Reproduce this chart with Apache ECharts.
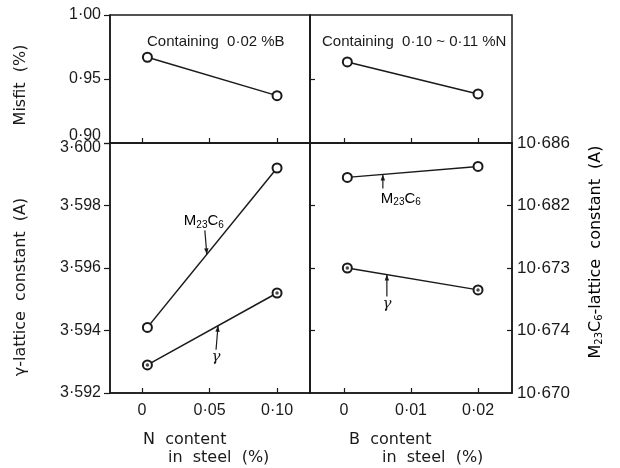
<!DOCTYPE html>
<html><head><meta charset="utf-8">
<script src="https://cdn.jsdelivr.net/npm/echarts@6/dist/echarts.min.js"></script>
<style>html,body{margin:0;padding:0;background:#fff}#c{width:620px;height:468px}</style>
</head><body><div id="c"></div><script>
// ---- data ----
const nTicks = [0, 0.05, 0.10];
const nTickLabels = ['0', '0·05', '0·10'];
const bTicks = [0, 0.01, 0.02];
const bTickLabels = ['0', '0·01', '0·02'];
const misfitTicks = [0.90, 0.95, 1.00];
const misfitLabels = ['0·90', '0·95', '1·00'];
const gammaTicks = [3.592, 3.594, 3.596, 3.598, 3.600];
const gammaLabels = ['3·592', '3·594', '3·596', '3·598', '3·600'];
const m23Ticks = [10.670, 10.674, 10.678, 10.682, 10.686];
const m23Labels = ['10·670', '10·674', '10·673', '10·682', '10·686'];

const nContent = [0.004, 0.10];
const bContent = [0.0005, 0.02];
const misfitN = [0.967, 0.937];
const misfitB = [0.9633, 0.9383];
const m23N = [3.5941, 3.5992];
const gammaN = [3.5929, 3.5952];
const gammaB = [3.5960, 3.5953];
const m23B = [10.6838, 10.6845];

// ---- helpers ----
const FONT = "'Liberation Sans', Arial, sans-serif";
const WFONT = "'DejaVu Sans', sans-serif";
const INK = '#1a1a1a';
const zip = (xs, ys) => xs.map((x, i) => [x, ys[i]]);
function lab(v, ticks, labels) {
  for (let i = 0; i < ticks.length; i++) if (Math.abs(v - ticks[i]) < 1e-7) return labels[i];
  return '';
}
function xAx(grid, min, max, ticks, labels, showLabel) {
  return {
    type: 'value', gridIndex: grid, min: min, max: max, position: 'bottom',
    axisLine: { show: true, onZero: false, lineStyle: { color: INK, width: 1.5 } },
    axisTick: { show: true, inside: true, length: 5, customValues: ticks, lineStyle: { color: INK, width: 1.2 } },
    axisLabel: { show: showLabel, customValues: ticks, formatter: v => lab(v, ticks, labels),
      color: INK, fontSize: 16, margin: 10, fontFamily: FONT },
    splitLine: { show: false }
  };
}
function yAx(grid, min, max, ticks, labels, opts) {
  return Object.assign({
    type: 'value', gridIndex: grid, min: min, max: max, position: 'left',
    axisLine: { show: true, onZero: false, lineStyle: { color: INK, width: 1.5 } },
    axisTick: { show: true, inside: false, length: 6, customValues: ticks, lineStyle: { color: INK, width: 1.2 } },
    axisLabel: { show: true, customValues: ticks, color: INK, fontSize: 16, margin: 9, fontFamily: FONT,
      formatter: v => lab(v, ticks, labels) },
    splitLine: { show: false }
  }, opts || {});
}
const lineStyle = { color: INK, width: 1.5 };
function lineSeries(xi, yi, data) {
  return { type: 'line', xAxisIndex: xi, yAxisIndex: yi, data: data, symbol: 'emptyCircle', symbolSize: 9,
    showSymbol: true, lineStyle: lineStyle, itemStyle: { color: INK, borderColor: INK, borderWidth: 1 },
    z: 3, silent: true, animation: false };
}
function dotSeries(xi, yi, data) {
  return { type: 'scatter', xAxisIndex: xi, yAxisIndex: yi, data: data, symbol: 'circle', symbolSize: 3.5,
    itemStyle: { color: INK }, z: 5, silent: true, animation: false };
}

const grids = [
  { left: 110, top: 15, width: 200, height: 128 },
  { left: 310, top: 15, width: 202, height: 128 },
  { left: 110, top: 143, width: 200, height: 250 },
  { left: 310, top: 143, width: 202, height: 250 }
].map(g => Object.assign(g, { show: true, borderColor: INK, borderWidth: 1.5, backgroundColor: 'transparent' }));

const nMin = -0.0237, nMax = 0.1244, bMin = -0.00507, bMax = 0.02507;

const yTL = yAx(0, 0.90, 1.00, misfitTicks, misfitLabels);
yTL.axisLabel.formatter = v => {
  const s = lab(v, misfitTicks, misfitLabels);
  return Math.abs(v - 0.90) < 1e-7 ? '{up|' + s + '}' : s;
};
yTL.axisLabel.rich = { up: { fontSize: 16, color: INK, fontFamily: FONT, padding: [0, 0, 14, 0] } };

const yBL = yAx(2, 3.592, 3.600, gammaTicks, gammaLabels);
yBL.axisLabel.formatter = v => {
  const s = lab(v, gammaTicks, gammaLabels);
  return Math.abs(v - 3.600) < 1e-7 ? '{dn|' + s + '}' : s;
};
yBL.axisLabel.rich = { dn: { fontSize: 16, color: INK, fontFamily: FONT, padding: [10, 0, 0, 0] } };

const yTR = yAx(1, 0.90, 1.00, [0.95], misfitLabels);
yTR.axisTick.inside = true; yTR.axisTick.length = 5; yTR.axisLabel.show = false;
const yBR = yAx(3, 3.592, 3.600, [3.594, 3.596, 3.598], gammaLabels);
yBR.axisTick.inside = true; yBR.axisTick.length = 5; yBR.axisLabel.show = false;
const yBRr = yAx(3, 10.670, 10.686, m23Ticks, m23Labels, { position: 'right' });
yBRr.axisTick.inside = true; yBRr.axisTick.length = 5; yBRr.axisTick.customValues = [10.674, 10.678, 10.682];
yBRr.axisLabel.margin = 5; yBRr.axisLabel.align = 'left'; yBRr.axisLabel.fontSize = 17;

const chart = echarts.init(document.getElementById('c'), null, { renderer: 'canvas' });
const titleStyle = { fontSize: 15, fontWeight: 'normal', color: INK, fontFamily: FONT };
const option = {
  animation: false,
  backgroundColor: '#fff',
  title: [
    { text: 'Containing  0·02 %B', left: 147, top: 34, textStyle: titleStyle, padding: 0 },
    { text: 'Containing  0·10 ~ 0·11 %N', left: 322, top: 34, textStyle: titleStyle, padding: 0 }
  ],
  grid: grids,
  xAxis: [
    xAx(0, nMin, nMax, nTicks, nTickLabels, false),
    xAx(1, bMin, bMax, bTicks, bTickLabels, false),
    xAx(2, nMin, nMax, nTicks, nTickLabels, true),
    xAx(3, bMin, bMax, bTicks, bTickLabels, true)
  ],
  yAxis: [yTL, yTR, yBL, yBR, yBRr],
  series: [
    lineSeries(0, 0, zip(nContent, misfitN)),
    lineSeries(1, 1, zip(bContent, misfitB)),
    lineSeries(2, 2, zip(nContent, m23N)),
    lineSeries(2, 2, zip(nContent, gammaN)),
    dotSeries(2, 2, zip(nContent, gammaN)),
    lineSeries(3, 3, zip(bContent, gammaB)),
    dotSeries(3, 3, zip(bContent, gammaB)),
    lineSeries(3, 4, zip(bContent, m23B))
  ]
};
chart.setOption(option);

// ---- annotations (arrows + labels), positioned from data ----
function onLine(xs, ys, x) { const t = (x - xs[0]) / (xs[1] - xs[0]); return ys[0] + t * (ys[1] - ys[0]); }
function px(xi, yi, pt) { return chart.convertToPixel({ xAxisIndex: xi, yAxisIndex: yi }, pt); }
const g = [];
function arrow(tip, tail) {
  g.push({ type: 'line', shape: { x1: tail[0], y1: tail[1], x2: tip[0], y2: tip[1] }, style: { stroke: INK, lineWidth: 1.2 }, z: 10 });
  const dx = tip[0] - tail[0], dy = tip[1] - tail[1], L = Math.hypot(dx, dy), ux = dx / L, uy = dy / L;
  const bx = tip[0] - ux * 6, by = tip[1] - uy * 6;
  g.push({ type: 'polygon', shape: { points: [[tip[0], tip[1]], [bx - uy * 2.2, by + ux * 2.2], [bx + uy * 2.2, by - ux * 2.2]] },
    style: { fill: INK }, z: 10 });
}
const subRich = {
  a: { fontSize: 15, fontFamily: FONT, color: INK },
  b: { fontSize: 10, fontFamily: FONT, color: INK, padding: [7, 0, 0, 0] }
};
function m23Text(x, y, align) {
  g.push({ type: 'text', x: x, y: y, z: 10, style: {
    text: '{a|M}{b|23}{a|C}{b|6}', align: align, verticalAlign: 'middle', rich: subRich } });
}
function gText(x, y) {
  g.push({ type: 'text', x: x, y: y, z: 10, style: { text: 'γ', fontSize: 15, fontFamily: "'DejaVu Serif', serif", fontStyle: 'italic', fill: INK, align: 'center', verticalAlign: 'middle' } });
}
// left M23C6
let xa = 0.048, tip = px(2, 2, [xa, onLine(nContent, m23N, xa)]);
arrow(tip, [tip[0] - 2, tip[1] - 24]); m23Text(tip[0] - 3, tip[1] - 33, 'center');
// left gamma
xa = 0.0563; tip = px(2, 2, [xa, onLine(nContent, gammaN, xa)]);
arrow(tip, [tip[0] - 2, tip[1] + 24]); gText(tip[0] - 2, tip[1] + 31);
// right M23C6
xa = 0.0058; tip = px(3, 4, [xa, onLine(bContent, m23B, xa)]);
arrow(tip, [tip[0], tip[1] + 14]); m23Text(tip[0] - 2, tip[1] + 24, 'left');
// right gamma
xa = 0.0064; tip = px(3, 3, [xa, onLine(bContent, gammaB, xa)]);
arrow(tip, [tip[0], tip[1] + 22]); gText(tip[0], tip[1] + 29);

// axis names
const nameStyle = { fontSize: 16, fontFamily: WFONT, fill: INK };
g.push({ type: 'text', x: 21, y: 85, rotation: Math.PI / 2, z: 10,
  style: Object.assign({ text: 'Misfit  (%)', align: 'center', verticalAlign: 'middle' }, nameStyle) });
g.push({ type: 'text', x: 21, y: 287, rotation: Math.PI / 2, z: 10,
  style: Object.assign({ text: 'γ-lattice  constant  (A)', align: 'center', verticalAlign: 'middle' }, nameStyle) });
g.push({ type: 'text', x: 596, y: 252, rotation: Math.PI / 2, z: 10,
  style: { text: '{a|M}{b|23}{a|C}{b|6}{a|-lattice  constant  (A)}', align: 'center', verticalAlign: 'middle',
    rich: { a: { fontSize: 16, fontFamily: WFONT, color: INK }, b: { fontSize: 10, fontFamily: WFONT, color: INK, padding: [7, 0, 0, 0] } } } });
g.push({ type: 'text', x: 143, y: 440, z: 10, style: Object.assign({ text: 'N  content', align: 'left', verticalAlign: 'middle' }, nameStyle) });
g.push({ type: 'text', x: 168, y: 458, z: 10, style: Object.assign({ text: 'in  steel  (%)', align: 'left', verticalAlign: 'middle' }, nameStyle) });
g.push({ type: 'text', x: 349, y: 440, z: 10, style: Object.assign({ text: 'B  content', align: 'left', verticalAlign: 'middle' }, nameStyle) });
g.push({ type: 'text', x: 382, y: 458, z: 10, style: Object.assign({ text: 'in  steel  (%)', align: 'left', verticalAlign: 'middle' }, nameStyle) });

chart.setOption({ graphic: { elements: g } });
</script></body></html>
